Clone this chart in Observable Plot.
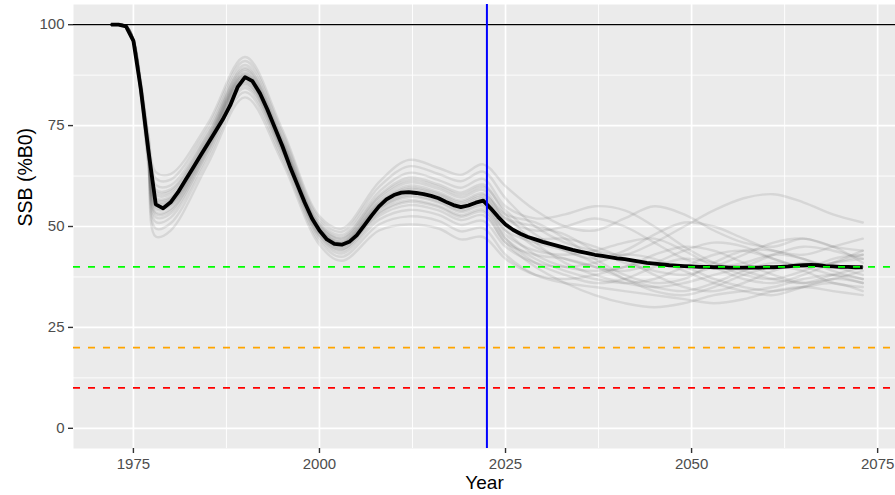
<!DOCTYPE html>
<html>
<head>
<meta charset="utf-8">
<script src="https://cdn.jsdelivr.net/npm/d3@7"></script>
<script src="https://cdn.jsdelivr.net/npm/@observablehq/plot@0.6"></script>
<style>
  html, body { margin: 0; padding: 0; background: #ffffff; }
  #chart svg { display: block; }
</style>
</head>
<body>
<div id="chart"></div>
<script>
// ---- data ----
const medianYears = d3.range(1972, 2074);
const medianSSB = [
  100, 100, 99.6, 96, 84, 69, 55.5, 54.5, 56, 58.5,
  61.5, 64.5, 67.5, 70.5, 73.5, 76.5, 80, 84.5, 87, 86,
  83, 79, 74.5, 70, 65, 60.5, 56, 52, 49, 46.8,
  45.7, 45.5, 46.2, 47.8, 50.2, 52.7, 55, 56.7, 57.8, 58.4,
  58.5, 58.3, 58, 57.6, 57, 56.1, 55.3, 54.8, 55.2, 55.9,
  56.4, 54.5, 52.4, 50.5, 49.2, 48.2, 47.4, 46.8, 46.2, 45.7,
  45.2, 44.7, 44.2, 43.8, 43.4, 43.0, 42.7, 42.4, 42.1, 41.9,
  41.6, 41.3, 41.0, 40.8, 40.6, 40.4, 40.3, 40.2, 40.1, 40.0,
  40.0, 39.9, 39.9, 39.8, 39.8, 39.8, 39.8, 39.8, 39.9, 39.9,
  40.0, 40.1, 40.3, 40.4, 40.5, 40.4, 40.2, 40.1, 40.0, 40.0,
  39.9, 39.9
];

const sampleYears = [1972, 1974, 1975, 1976, 1977, 1978, 1980, 1985, 1990, 1995, 2000, 2003, 2008, 2012, 2016, 2019, 2022,
  2025, 2029, 2033, 2037, 2041, 2045, 2049, 2053, 2057, 2061, 2065, 2069, 2073];
const sampleRuns = [
  [100, 99.7, 96.5, 86, 73, 63.5, 63, 75.5, 92, 74, 52.5, 49.5, 61, 66.5, 64.5, 62.8, 65.4,
   60, 54, 50, 49, 52, 55, 53, 49, 46, 45, 47, 45, 44],
  [100, 99.7, 96.4, 85.6, 72.2, 61.9, 61.6, 74.5, 91, 73.2, 51.8, 48.7, 59.8, 64.9, 63, 61.2, 63.6,
   57, 50, 46, 44, 43, 46, 50, 54, 57, 58, 56, 53, 51],
  [100, 99.7, 96.3, 85.2, 71.4, 60.3, 60.2, 73.5, 90, 72.4, 51.1, 47.9, 58.6, 63.3, 61.5, 59.6, 61.8,
   55, 52, 53, 55, 54, 50, 45, 41, 38, 37, 39, 42, 43],
  [100, 99.6, 96.2, 84.9, 70.8, 59.1, 59.2, 72.8, 89.3, 71.8, 50.6, 47.3, 57.7, 62.1, 60.4, 58.4, 60.4,
   53, 46, 41, 38, 36, 35, 36, 38, 40, 43, 45, 44, 42],
  [100, 99.6, 96.2, 84.8, 70.5, 58.5, 58.7, 72.4, 88.9, 71.5, 50.3, 47, 57.3, 61.5, 59.9, 57.8, 59.8,
   54, 48, 44, 42, 44, 48, 51, 50, 47, 44, 43, 45, 47],
  [100, 99.6, 96.2, 84.6, 70.2, 57.9, 58.1, 72, 88.5, 71.2, 50.1, 46.7, 56.8, 60.9, 59.3, 57.2, 59.1,
   52, 49, 50, 52, 50, 46, 42, 40, 41, 43, 42, 39, 37],
  [100, 99.6, 96.1, 84.4, 69.8, 57.1, 57.4, 71.5, 88, 70.8, 49.7, 46.3, 56.2, 60.1, 58.5, 56.4, 58.2,
   51, 45, 42, 40, 39, 41, 44, 46, 45, 42, 40, 41, 43],
  [100, 99.6, 96.1, 84.3, 69.6, 56.7, 57, 71.3, 87.8, 70.6, 49.5, 46.1, 55.9, 59.6, 58.1, 56, 57.8,
   53, 51, 47, 42, 38, 36, 37, 41, 44, 44, 42, 40, 40],
  [100, 99.6, 96, 84.2, 69.4, 56.3, 56.7, 71, 87.5, 70.4, 49.4, 45.9, 55.6, 59.3, 57.8, 55.6, 57.3,
   50, 47, 47, 45, 42, 38, 35, 34, 36, 39, 41, 40, 38],
  [100, 99.6, 96, 84.1, 69.2, 55.9, 56.4, 70.8, 87.3, 70.2, 49.2, 45.7, 55.3, 58.9, 57.4, 55.2, 56.9,
   52, 50, 48, 44, 41, 39, 38, 40, 43, 46, 47, 45, 41],
  [100, 99.6, 96, 84, 69, 55.5, 56, 70.5, 87, 70, 49, 45.5, 55, 58.5, 57, 54.8, 56.4,
   49, 43, 40, 39, 40, 43, 45, 44, 41, 38, 36, 37, 39],
  [100, 99.6, 96, 83.9, 68.8, 55.1, 55.7, 70.3, 86.8, 69.8, 48.8, 45.3, 54.7, 58.1, 56.6, 54.4, 56,
   48, 44, 43, 44, 46, 47, 44, 40, 37, 36, 38, 41, 44],
  [100, 99.6, 95.9, 83.8, 68.6, 54.7, 55.3, 70, 86.5, 69.6, 48.7, 45.1, 54.4, 57.7, 56.2, 54, 55.5,
   49, 46, 44, 41, 37, 34, 33, 35, 38, 40, 39, 36, 35],
  [100, 99.6, 95.9, 83.7, 68.4, 54.3, 55, 69.8, 86.3, 69.4, 48.5, 44.9, 54.1, 57.3, 55.9, 53.6, 55,
   47, 41, 38, 36, 37, 40, 42, 41, 39, 37, 36, 38, 40],
  [100, 99.6, 95.9, 83.5, 68, 53.5, 54.3, 69.3, 85.8, 69, 48.1, 44.5, 53.5, 56.5, 55.1, 52.8, 54.2,
   47, 42, 39, 37, 36, 37, 40, 43, 44, 42, 40, 41, 42],
  [100, 99.6, 95.8, 83.4, 67.8, 53.1, 53.9, 69, 85.5, 68.8, 47.9, 44.3, 53.2, 56.1, 54.8, 52.4, 53.7,
   46, 43, 42, 40, 37, 35, 34, 36, 39, 41, 40, 38, 36],
  [100, 99.5, 95.8, 83.2, 67.4, 52.3, 53.2, 68.5, 85, 68.4, 47.6, 43.9, 52.6, 55.3, 54, 51.6, 52.8,
   46, 40, 36, 33, 31, 30, 31, 33, 34, 35, 37, 38, 37],
  [100, 99.5, 95.7, 82.9, 66.8, 51.1, 52.2, 67.8, 84.3, 67.8, 47.1, 43.3, 51.7, 54.1, 52.9, 50.4, 51.4,
   45, 41, 40, 41, 43, 42, 39, 36, 34, 33, 35, 37, 36],
  [100, 99.5, 95.6, 82.5, 66, 49.5, 50.8, 66.8, 83.3, 67, 46.4, 42.5, 50.5, 52.5, 51.4, 48.8, 49.6,
   43, 38, 36, 35, 34, 33, 32, 31, 32, 34, 35, 34, 33],
  [100, 99.5, 95.5, 82, 65, 47.5, 49, 65.5, 82, 66, 45.5, 41.5, 49, 50.5, 49.5, 46.8, 47.4,
   42, 38, 37, 38, 40, 41, 40, 37, 35, 34, 35, 36, 34]
];

const refLevels = [40, 20, 10];
const refColors = ["#00FF00", "#FFA500", "#FF0000"];
const unfishedLevel = [100];
const currentYear = [2022.5];

const xTicks = [1975, 2000, 2025, 2050, 2075];
const xMinor = [1987.5, 2012.5, 2037.5, 2062.5];
const yTicks = [0, 25, 50, 75, 100];
const yMinor = [12.5, 37.5, 62.5, 87.5];

// ---- tables ----
const medianTable = medianYears.map((yr, i) => ({year: yr, ssb: medianSSB[i]}));
const sampleTable = sampleRuns.flatMap((run, r) =>
  run.map((v, i) => ({run: r, year: sampleYears[i], ssb: v})));
const refTable = refLevels.map((v, i) => ({level: v, color: refColors[i]}));

const font = "'Liberation Sans', Arial, Helvetica, sans-serif";

const chart = Plot.plot({
  width: 895,
  height: 495,
  marginLeft: 73,
  marginRight: 0,
  marginTop: 4,
  marginBottom: 47,
  style: {fontFamily: font, background: "#ffffff"},
  x: {domain: [1966.95, 2077.4]},
  y: {domain: [-5, 105]},
  marks: [
    Plot.frame({fill: "#EBEBEB", stroke: "none"}),
    Plot.ruleX(xMinor, {stroke: "#ffffff", strokeWidth: 0.9}),
    Plot.ruleY(yMinor, {stroke: "#ffffff", strokeWidth: 0.9}),
    Plot.ruleX(xTicks, {stroke: "#ffffff", strokeWidth: 1.7}),
    Plot.ruleY(yTicks, {stroke: "#ffffff", strokeWidth: 1.7}),
    Plot.line(sampleTable, {x: "year", y: "ssb", z: "run", stroke: "#6e6e6e", strokeOpacity: 0.17,
      strokeWidth: 2.4, curve: "catmull-rom"}),
    Plot.line(medianTable, {x: "year", y: "ssb", stroke: "#000000", strokeWidth: 3.8,
      strokeLinejoin: "round", strokeLinecap: "butt"}),
    Plot.ruleY(unfishedLevel, {stroke: "#000000", strokeWidth: 1.3}),
    Plot.ruleY(refTable, {y: "level", stroke: "color", strokeWidth: 1.8, strokeDasharray: "7,8"}),
    Plot.ruleX(currentYear, {stroke: "#0000FF", strokeWidth: 2}),
    Plot.axisX(xTicks, {tickSize: 5, tickPadding: 5, fontSize: 15, fill: "#4D4D4D", stroke: "#333333",
      strokeWidth: 1.4, label: null, tickFormat: d => String(d)}),
    Plot.axisY(yTicks, {tickSize: 5, tickPadding: 4, fontSize: 15, fill: "#4D4D4D", stroke: "#333333",
      strokeWidth: 1.4, label: null, tickFormat: d => String(d)}),
    Plot.text(["Year"], {frameAnchor: "bottom", lineAnchor: "middle", dy: 34, fontSize: 19, fill: "#000000"}),
    Plot.text(["SSB (%B0)"], {frameAnchor: "left", lineAnchor: "middle", dx: -48, rotate: -90, fontSize: 19.5, fill: "#000000"})
  ]
});
document.getElementById("chart").appendChild(chart);
</script>
</body>
</html>
